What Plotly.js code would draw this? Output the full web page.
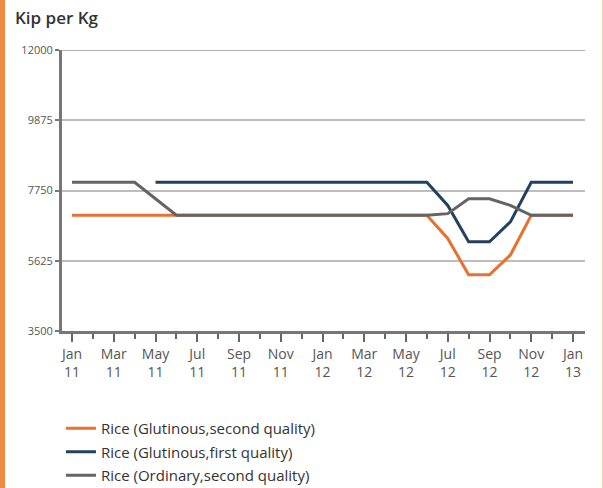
<!DOCTYPE html>
<html>
<head>
<meta charset="utf-8">
<script src="https://cdn.plot.ly/plotly-3.0.1.min.js"></script>
<style>
  html, body { margin: 0; padding: 0; background: #fff; }
  #wrap { position: relative; width: 603px; height: 488px; overflow: hidden; }
  #chart { position: absolute; left: 0; top: 0; width: 603px; height: 488px; }
  #lbar { position: absolute; left: 0; top: 0; width: 5px; height: 488px; background: #ef8a45; }
  #rbar { position: absolute; right: 0; top: 0; width: 1px; height: 488px; background: #f7cfae; }
</style>
</head>
<body>
<div id="wrap">
  <div id="chart"></div>
  <div id="lbar"></div>
  <div id="rbar"></div>
</div>
<script>
// Months (index 0 = Jan 2011)
const months = ["Jan 11","Feb 11","Mar 11","Apr 11","May 11","Jun 11","Jul 11","Aug 11","Sep 11","Oct 11","Nov 11","Dec 11",
                "Jan 12","Feb 12","Mar 12","Apr 12","May 12","Jun 12","Jul 12","Aug 12","Sep 12","Oct 12","Nov 12","Dec 12","Jan 13"];

// Kip per Kg
const glutinousSecond = [7000,7000,7000,7000,7000,7000,7000,7000,7000,7000,7000,7000,
                         7000,7000,7000,7000,7000,7000,6300,5200,5200,5800,7000,7000,7000];
const glutinousFirst  = [null,null,null,null,8000,8000,8000,8000,8000,8000,8000,8000,
                         8000,8000,8000,8000,8000,8000,7300,6200,6200,6800,8000,8000,8000];
const ordinarySecond  = [8000,8000,8000,8000,7500,7000,7000,7000,7000,7000,7000,7000,
                         7000,7000,7000,7000,7000,7000,7050,7500,7500,7300,7000,7000,7000];

const seriesNames = ["Rice (Glutinous,second quality)", "Rice (Glutinous,first quality)", "Rice (Ordinary,second quality)"];
const yTicks = [3500, 5625, 7750, 9875, 12000];

const xIdx = months.map((m, i) => i);
const tickIdx = xIdx.filter(i => i % 2 === 0);
const tickText = tickIdx.map(i => months[i].replace(" ", "<br>"));

const FONT = "'Open Sans', 'Noto Sans', sans-serif";

const traces = [
  {x: xIdx, y: glutinousSecond, name: seriesNames[0], legendgroup: "g1", type: "scatter", mode: "lines",
   line: {color: "#e8712d", width: 3}},
  {x: xIdx, y: glutinousFirst, name: seriesNames[1], legendgroup: "g2", type: "scatter", mode: "lines",
   line: {color: "#22405f", width: 3}},
  {x: xIdx, y: ordinarySecond, name: seriesNames[2], legendgroup: "g3", type: "scatter", mode: "lines",
   line: {color: "#646464", width: 3}}
];

const layout = {
  width: 603, height: 488,
  margin: {l: 62, r: 18, t: 50, b: 157, autoexpand: false},
  paper_bgcolor: "#ffffff", plot_bgcolor: "#ffffff",
  font: {family: FONT, color: "#555"},
  title: {text: "Kip per Kg", x: 15/603, xref: "container", xanchor: "left",
          y: 1 - 18/488, yref: "container", yanchor: "middle",
          font: {family: FONT, size: 17, color: "#333", weight: 600}},
  showlegend: true,
  legend: {orientation: "v", x: -0.002, xanchor: "left", y: 1 - (412 - 50) / 281, yanchor: "top",
           font: {family: FONT, size: 15, color: "#333"}, itemwidth: 30,
           bgcolor: "rgba(0,0,0,0)", traceorder: "grouped", tracegroupgap: 1},
  shapes: [
    {type: "line", xref: "paper", x0: 0, x1: 1, yref: "y", y0: yTicks[yTicks.length - 1], y1: yTicks[yTicks.length - 1],
     line: {color: "#b0b0b0", width: 2}, layer: "below"}
  ],
  xaxis: {
    range: [-0.479, 24.575], tickmode: "array", tickvals: tickIdx, ticktext: tickText,
    showgrid: false, zeroline: false, showline: true, linecolor: "#777", linewidth: 3,
    ticks: "outside", ticklen: 8, tickwidth: 2, tickcolor: "#666",
    minor: {ticks: "outside", ticklen: 5, tickwidth: 2, tickcolor: "#666", dtick: 1, tick0: 0, showgrid: false},
    tickfont: {family: FONT, size: 14, color: "#555"}
  },
  yaxis: {
    range: [3500, 12000], tickmode: "array", tickvals: yTicks, ticktext: yTicks.map(String),
    showgrid: true, gridcolor: "#bdbdbd", gridwidth: 2, zeroline: false,
    showline: true, linecolor: "#777", linewidth: 3,
    ticks: "outside", ticklen: 4, tickwidth: 2, tickcolor: "#777",
    tickfont: {family: FONT, size: 11, color: "#555"}
  }
};

Plotly.newPlot("chart", traces, layout, {displayModeBar: false, staticPlot: true});
</script>
</body>
</html>
